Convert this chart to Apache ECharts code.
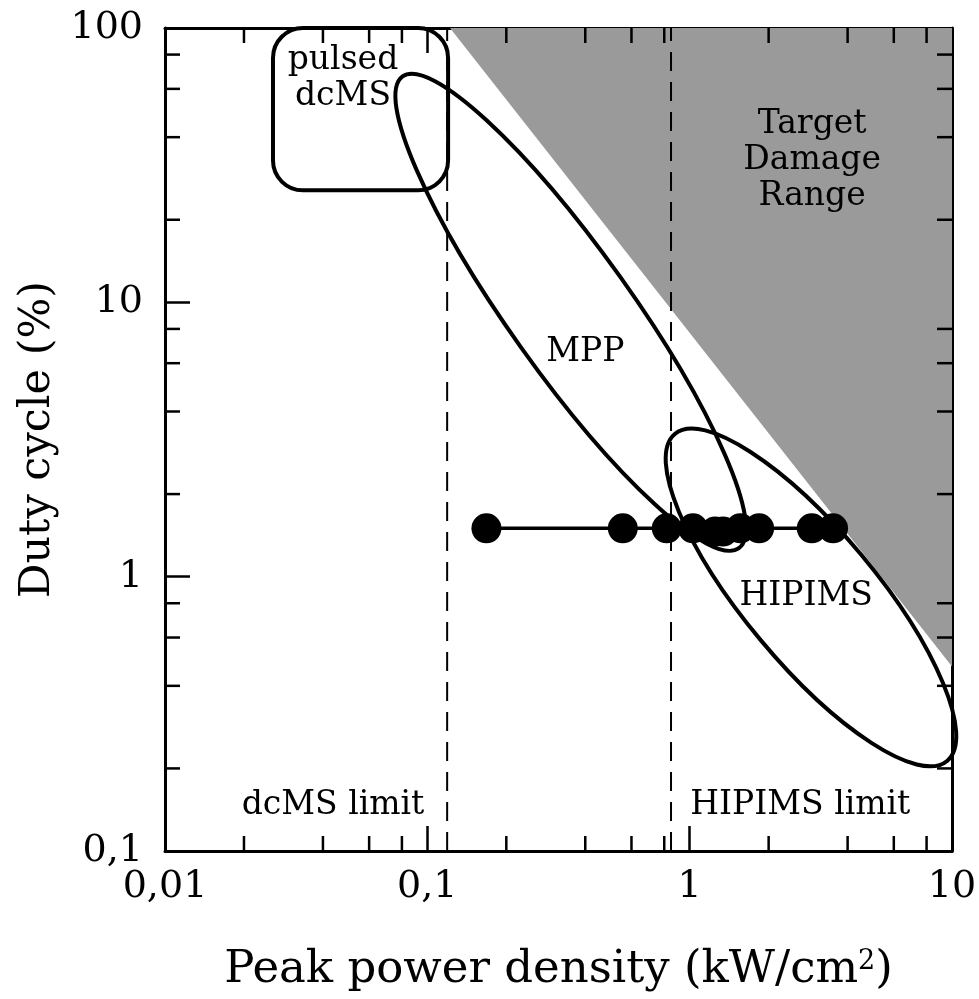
<!DOCTYPE html>
<html>
<head>
<meta charset="utf-8">
<script src="https://cdn.jsdelivr.net/npm/echarts@6/dist/echarts.min.js"></script>
<style>html,body{margin:0;padding:0;background:#fff}#chart{width:979px;height:999px}</style>
</head>
<body>
<div id="chart"></div>
<script>
// axis ranges and minor ticks (log axes)
const xRange = [0.01, 10];
const yRange = [0.1, 100];
const xTickMinor = [0.02, 0.04, 0.06, 0.08, 0.2, 0.4, 0.6, 0.8, 2, 4, 6, 8];
const yTickMinor = [0.2, 0.4, 0.6, 0.8, 2, 4, 6, 8, 20, 40, 60, 80];

// measured points
const pointX = [0.168, 0.556, 0.818, 1.03, 1.25, 1.34, 1.56, 1.84, 2.92, 3.52];
const pointY = [1.5, 1.5, 1.5, 1.5, 1.46, 1.46, 1.5, 1.5, 1.5, 1.5];

// target damage range (grey)
const damageX = [0.122, 10, 10];
const damageY = [100, 100, 0.47];

// dashed limits
const limitX = [0.119, 0.849];

// ellipses: centre, end of long axis, short/long ratio
const ellipseCx = [0.352, 2.90];
const ellipseCy = [9.2, 0.84];
const ellipseEx = [1.54, 9.58];
const ellipseEy = [1.27, 0.213];
const ellipseRatio = [0.21, 0.31];

// pulsed dcMS box
const boxX = [0.0258, 0.12];
const boxY = [25.6, 100];

// annotations
const noteText = ['pulsed\ndcMS', 'Target\nDamage\nRange', 'MPP', 'HIPIMS', 'dcMS limit', 'HIPIMS limit'];
const noteX = [0.0477, 2.93, 0.40, 2.78, 0.0437, 2.64];
const noteY = [65.7, 33, 6.57, 0.845, 0.146, 0.146];

const FONT = 'DejaVu Serif';
const fmt = v => Number(v.toPrecision(6)).toString().replace('.', ',');

const chart = echarts.init(document.getElementById('chart'));

function frameAxis(pos, isX, main) {
  const ax = {
    type: 'log', logBase: 10,
    min: isX ? xRange[0] : yRange[0],
    max: isX ? xRange[1] : yRange[1],
    position: pos,
    axisLine: { show: true, onZero: false, lineStyle: { color: '#000', width: 3 } },
    axisTick: { show: true, inside: true, length: 25, lineStyle: { color: '#000', width: 2.5 } },
    axisLabel: { show: false },
    splitLine: { show: false }
  };
  if (main) {
    ax.axisLabel = { show: true, fontFamily: FONT, fontSize: 38, color: '#000', margin: isX ? 17 : 22, formatter: fmt };
  }
  return ax;
}

const xMain = frameAxis('bottom', true, true);
xMain.name = '{a|Peak power density (kW/cm}{s|2}{a|)}';
xMain.nameLocation = 'middle';
xMain.nameGap = 97;
xMain.nameTextStyle = {
  rich: {
    a: { fontFamily: FONT, fontSize: 45, color: '#000' },
    s: { fontFamily: FONT, fontSize: 27, color: '#000', verticalAlign: 'top' }
  }
};
const yMain = frameAxis('left', false, true);
yMain.name = 'Duty cycle (%)';
yMain.nameLocation = 'middle';
yMain.nameRotate = 90;
yMain.nameGap = 104;
yMain.nameTextStyle = { fontFamily: FONT, fontSize: 43, color: '#000' };

const blackLine = { stroke: '#000', lineWidth: 2.5 };

const option = {
  animation: false,
  backgroundColor: '#fff',
  grid: { left: 165, right: 27, top: 28, bottom: 148, containLabel: false, outerBoundsMode: 'none' },
  xAxis: [xMain, frameAxis('top', true, false)],
  yAxis: [yMain, frameAxis('right', false, false)],
  series: [
    {
      // grey damage area
      type: 'custom', silent: true, z: 1,
      data: [[1, 1]],
      renderItem: (params, api) => ({
        type: 'polygon',
        shape: { points: damageX.map((x, i) => api.coord([x, damageY[i]])) },
        style: { fill: '#9a9a9a' }
      })
    },
    ...limitX.map(x => ({
      type: 'line', silent: true, z: 2, symbol: 'none',
      data: [[x, yRange[0]], [x, yRange[1]]],
      lineStyle: { color: '#000', width: 2, type: [19, 11] }
    })),
    {
      // MPP and HIPIMS ellipses
      type: 'custom', silent: true, z: 3,
      data: ellipseCx.map((x, i) => [x, ellipseCy[i]]),
      renderItem: (params, api) => {
        const i = params.dataIndex;
        const c = api.coord([ellipseCx[i], ellipseCy[i]]);
        const e = api.coord([ellipseEx[i], ellipseEy[i]]);
        const a = Math.hypot(e[0] - c[0], e[1] - c[1]);
        const ang = Math.atan2(e[1] - c[1], e[0] - c[0]);
        return {
          type: 'ellipse',
          shape: { cx: c[0], cy: c[1], rx: a, ry: a * ellipseRatio[i] },
          rotation: -ang, originX: c[0], originY: c[1],
          style: { fill: 'none', stroke: '#000', lineWidth: 4 }
        };
      }
    },
    {
      // pulsed dcMS box
      type: 'custom', silent: true, z: 3,
      data: [[boxX[0], boxY[0]]],
      renderItem: (params, api) => {
        const p0 = api.coord([boxX[0], boxY[1]]);
        const p1 = api.coord([boxX[1], boxY[0]]);
        return {
          type: 'rect',
          shape: { x: p0[0], y: p0[1], width: p1[0] - p0[0], height: p1[1] - p0[1], r: 30 },
          style: { fill: 'none', stroke: '#000', lineWidth: 4 }
        };
      }
    },
    {
      type: 'line', z: 5, symbol: 'circle', symbolSize: 30,
      data: pointX.map((x, i) => [x, pointY[i]]),
      itemStyle: { color: '#000' },
      lineStyle: { color: '#000', width: 3.5 }
    },
    {
      // minor ticks, bottom and top
      type: 'custom', silent: true, z: 6,
      data: xTickMinor.map(v => [v, 1]),
      renderItem: (params, api) => {
        const p = api.coord([api.value(0), 1]);
        const cs = params.coordSys;
        const yb = cs.y + cs.height;
        return {
          type: 'group', children: [
            { type: 'line', shape: { x1: p[0], y1: yb, x2: p[0], y2: yb - 15 }, style: blackLine },
            { type: 'line', shape: { x1: p[0], y1: cs.y, x2: p[0], y2: cs.y + 15 }, style: blackLine }
          ]
        };
      }
    },
    {
      // minor ticks, left and right
      type: 'custom', silent: true, z: 6,
      data: yTickMinor.map(v => [1, v]),
      renderItem: (params, api) => {
        const p = api.coord([1, api.value(1)]);
        const cs = params.coordSys;
        const xr = cs.x + cs.width;
        return {
          type: 'group', children: [
            { type: 'line', shape: { x1: cs.x, y1: p[1], x2: cs.x + 15, y2: p[1] }, style: blackLine },
            { type: 'line', shape: { x1: xr, y1: p[1], x2: xr - 15, y2: p[1] }, style: blackLine }
          ]
        };
      }
    },
    {
      // annotations
      type: 'custom', silent: true, z: 7,
      data: noteX.map((x, i) => [x, noteY[i]]),
      renderItem: (params, api) => {
        const i = params.dataIndex;
        const p = api.coord([noteX[i], noteY[i]]);
        return {
          type: 'text', x: p[0], y: p[1],
          style: {
            text: noteText[i], fill: '#000', fontFamily: FONT, fontSize: 33,
            align: 'center', verticalAlign: 'middle', lineHeight: 36
          }
        };
      }
    }
  ]
};
chart.setOption(option);
</script>
</body>
</html>
